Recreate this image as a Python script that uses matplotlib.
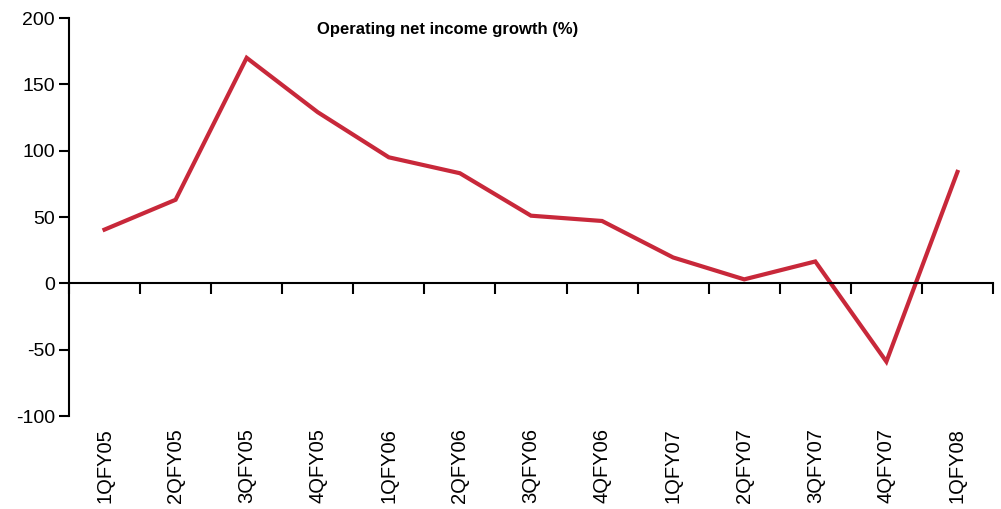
import numpy as np
import matplotlib.pyplot as plt

plt.rcParams['font.family'] = ['Liberation Sans', 'DejaVu Sans']
plt.rcParams['axes.unicode_minus'] = False

quarters = ['1QFY05', '2QFY05', '3QFY05', '4QFY05', '1QFY06', '2QFY06', '3QFY06',
            '4QFY06', '1QFY07', '2QFY07', '3QFY07', '4QFY07', '1QFY08']
growth = [40.5, 63, 170, 129, 95, 83, 51, 47, 19.5, 3, 16.5, -59, 84]

fig = plt.figure(figsize=(10.01, 5.09), dpi=100)
ax = fig.add_axes([0.0689, 0.1827, 0.9231, 0.7819])

x = np.arange(len(quarters))
ax.plot(x, growth, color='#C8283A', lw=3, solid_joinstyle='miter')

ax.set_xlim(-0.5, len(quarters) - 0.5)
ax.set_ylim(-100, 200)
ax.set_yticks([-100, -50, 0, 50, 100, 150, 200])
ax.tick_params(axis='y', direction='out', length=7, width=1.5, labelsize=14, pad=3)

for s in ['top', 'right']:
    ax.spines[s].set_visible(False)
ax.spines['left'].set_linewidth(1.5)
ax.spines['bottom'].set_position(('data', 0))
ax.spines['bottom'].set_linewidth(1.5)

# category boundaries as minor ticks on the zero line
ax.set_xticks(np.arange(len(quarters) + 1) - 0.5, minor=True)
ax.tick_params(axis='x', which='minor', direction='out', length=8, width=1.5)
ax.set_xticks(x)
ax.set_xticklabels(quarters, rotation=90, fontsize=14.5)
ax.tick_params(axis='x', which='major', length=0, pad=104)

fig.text(0.447, 0.943, 'Operating net income growth (%)', ha='center', va='center',
         fontsize=12, fontweight='bold')

fig.savefig('out.png', dpi=100)
